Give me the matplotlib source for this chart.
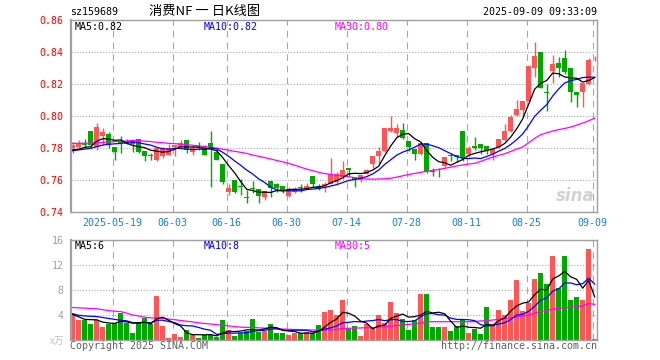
import matplotlib
matplotlib.use("Agg")
import matplotlib.pyplot as plt
import numpy as np

# daily candles (index 0 = 2025-05-08 ... 87 = 2025-09-09)
opens = [0.780, 0.781, 0.783, 0.791, 0.781, 0.788, 0.789, 0.781, 0.784, 0.784,
         0.785, 0.786, 0.778, 0.776, 0.773, 0.775, 0.776, 0.781, 0.781, 0.785,
         0.778, 0.781, 0.781, 0.783, 0.778, 0.770, 0.753, 0.760, 0.7565, 0.7495,
         0.7552, 0.7546, 0.7498, 0.7596, 0.7577, 0.7565, 0.750, 0.753, 0.7556, 0.7548,
         0.7627, 0.7565, 0.7565, 0.758, 0.759, 0.762, 0.7675, 0.762, 0.760, 0.764,
         0.770, 0.775, 0.7785, 0.791, 0.7895, 0.7915, 0.7846, 0.7794, 0.7765, 0.7831,
         0.7656, 0.7667, 0.769, 0.7754, 0.7758, 0.7908, 0.7763, 0.7815, 0.7827, 0.7815,
         0.7765, 0.781, 0.7852, 0.7908, 0.8006, 0.804, 0.8096, 0.8304, 0.840, 0.8146,
         0.8285, 0.8331, 0.8367, 0.8304, 0.8154, 0.8154, 0.820, 0.8362]
highs = [0.784, 0.785, 0.786, 0.791, 0.796, 0.793, 0.790, 0.781, 0.788, 0.786,
         0.786, 0.786, 0.778, 0.777, 0.781, 0.781, 0.783, 0.782, 0.785, 0.785,
         0.782, 0.784, 0.782, 0.791, 0.781, 0.770, 0.758, 0.760, 0.761, 0.754,
         0.7595, 0.7546, 0.7533, 0.7596, 0.7585, 0.7565, 0.7556, 0.756, 0.758, 0.7585,
         0.7627, 0.7577, 0.759, 0.774, 0.765, 0.772, 0.7675, 0.762, 0.7635, 0.767,
         0.775, 0.781, 0.7925, 0.800, 0.795, 0.7956, 0.7846, 0.7794, 0.7842, 0.7831,
         0.7675, 0.7675, 0.7744, 0.7769, 0.7758, 0.7908, 0.7815, 0.7873, 0.7827, 0.7815,
         0.7794, 0.7856, 0.795, 0.801, 0.8102, 0.8096, 0.8317, 0.8462, 0.840, 0.820,
         0.8383, 0.8373, 0.8415, 0.8304, 0.8154, 0.8206, 0.8362, 0.8379]
lows = [0.777, 0.780, 0.780, 0.780, 0.779, 0.782, 0.780, 0.773, 0.777, 0.783,
        0.778, 0.777, 0.772, 0.773, 0.772, 0.774, 0.776, 0.775, 0.780, 0.777,
        0.776, 0.779, 0.776, 0.756, 0.773, 0.758, 0.751, 0.752, 0.751, 0.746,
        0.752, 0.7456, 0.748, 0.7494, 0.753, 0.752, 0.7494, 0.752, 0.753, 0.7548,
        0.7556, 0.754, 0.753, 0.7577, 0.758, 0.761, 0.7627, 0.756, 0.759, 0.764,
        0.7675, 0.770, 0.778, 0.790, 0.787, 0.7856, 0.7785, 0.7727, 0.7758, 0.7644,
        0.7627, 0.7623, 0.7685, 0.7723, 0.7717, 0.7721, 0.7748, 0.779, 0.7763, 0.7765,
        0.7727, 0.780, 0.7848, 0.790, 0.800, 0.8004, 0.8092, 0.8248, 0.8175, 0.8033,
        0.8206, 0.8248, 0.8263, 0.8092, 0.806, 0.806, 0.8196, 0.8346]
closes = [0.782, 0.783, 0.782, 0.782, 0.793, 0.790, 0.782, 0.778, 0.783, 0.783,
          0.783, 0.778, 0.775, 0.775, 0.780, 0.780, 0.780, 0.782, 0.783, 0.779,
          0.780, 0.780, 0.776, 0.781, 0.773, 0.759, 0.755, 0.753, 0.756, 0.749,
          0.7548, 0.750, 0.7533, 0.755, 0.7554, 0.754, 0.7544, 0.7544, 0.755, 0.7565,
          0.7577, 0.7548, 0.7577, 0.764, 0.764, 0.7665, 0.7665, 0.760, 0.7633, 0.7665,
          0.775, 0.7785, 0.7925, 0.7925, 0.7925, 0.7863, 0.7806, 0.7765, 0.7831, 0.766,
          0.7654, 0.7665, 0.7744, 0.7752, 0.7748, 0.7738, 0.780, 0.780, 0.780, 0.7785,
          0.7794, 0.7856, 0.7908, 0.7998, 0.8046, 0.8096, 0.8317, 0.8379, 0.8179, 0.8144,
          0.8327, 0.8304, 0.8275, 0.8154, 0.8133, 0.8206, 0.8352, 0.8367]

ma5 = [0.779, 0.7794, 0.7806, 0.781, 0.7844, 0.786, 0.7858, 0.785, 0.7852, 0.7832,
       0.7818, 0.781, 0.7804, 0.7788, 0.7782, 0.7776, 0.778, 0.7794, 0.781, 0.7808,
       0.7808, 0.7808, 0.7796, 0.7796, 0.7784, 0.7742, 0.7692, 0.7646, 0.7592, 0.7544,
       0.7536, 0.7526, 0.7526, 0.7524, 0.7536, 0.7534, 0.7542, 0.7544, 0.7544, 0.7548,
       0.7556, 0.7558, 0.7566, 0.7584, 0.7598, 0.7616, 0.764, 0.7644, 0.7642, 0.7648,
       0.7664, 0.7688, 0.7754, 0.7814, 0.7866, 0.7888, 0.7892, 0.786, 0.784, 0.7786,
       0.7744, 0.7716, 0.771, 0.7694, 0.7712, 0.773, 0.7756, 0.7768, 0.7778, 0.7786,
       0.7796, 0.7808, 0.783, 0.787, 0.7922, 0.7984, 0.8076, 0.817, 0.8206, 0.8224,
       0.827, 0.8266, 0.8246, 0.824, 0.8238, 0.8214, 0.8224, 0.8242]
ma10 = [0.7785, 0.779, 0.7795, 0.780, 0.781, 0.782, 0.7825, 0.7828, 0.783, 0.7838,
        0.7839, 0.7834, 0.7827, 0.782, 0.7807, 0.7797, 0.7795, 0.7799, 0.7799, 0.7795,
        0.7792, 0.7794, 0.7795, 0.7803, 0.7796, 0.7775, 0.775, 0.7721, 0.7694, 0.7664,
        0.7639, 0.7609, 0.7586, 0.7558, 0.754, 0.7535, 0.7534, 0.7535, 0.7534, 0.7542,
        0.7545, 0.755, 0.7555, 0.7564, 0.7573, 0.7586, 0.7599, 0.7605, 0.7613, 0.7623,
        0.764, 0.7664, 0.7699, 0.7728, 0.7757, 0.7776, 0.779, 0.7807, 0.7827, 0.7826,
        0.7816, 0.7804, 0.7785, 0.7767, 0.7749, 0.7737, 0.7736, 0.7739, 0.7736, 0.7749,
        0.7763, 0.7782, 0.7799, 0.7824, 0.7854, 0.789, 0.7942, 0.800, 0.8038, 0.8073,
        0.8127, 0.8171, 0.8208, 0.8223, 0.8231, 0.8242, 0.8245, 0.8244]
ma30 = [0.7831, 0.7831, 0.7832, 0.7833, 0.7835, 0.7837, 0.7840, 0.7842, 0.7844, 0.7846,
        0.7848, 0.7848, 0.7845, 0.7842, 0.7838, 0.7835, 0.7831, 0.7829, 0.7826, 0.7823,
        0.7819, 0.7815, 0.7811, 0.7806, 0.7800, 0.7795, 0.7788, 0.7781, 0.7775, 0.7768,
        0.7758, 0.7750, 0.7742, 0.7733, 0.7724, 0.7715, 0.7706, 0.7694, 0.7682, 0.7670,
        0.7660, 0.7650, 0.7642, 0.7637, 0.7632, 0.7628, 0.7623, 0.7616, 0.7610, 0.7608,
        0.7607, 0.7608, 0.7610, 0.7613, 0.7620, 0.7628, 0.7636, 0.7643, 0.7650, 0.7656,
        0.7662, 0.7668, 0.7675, 0.7682, 0.7690, 0.7696, 0.7702, 0.7706, 0.7718, 0.7732,
        0.7745, 0.7756, 0.7766, 0.7780, 0.7795, 0.7808, 0.7835, 0.7862, 0.7885, 0.7897,
        0.7908, 0.7917, 0.7924, 0.7933, 0.7945, 0.7958, 0.7972, 0.7988]

# volume, x万
volume = [4.0, 3.2, 3.2, 2.56, 3.2, 2.13, 2.56, 2.77, 4.27, 2.77,
          1.07, 2.83, 3.57, 2.56, 7.04, 2.24, 0.37, 0.96, 0.53, 1.6,
          0.8, 0.37, 0.8, 0.8, 0.53, 3.2, 1.6, 0.64, 1.17, 1.49,
          3.36, 1.33, 1.49, 2.56, 1.17, 1.17, 0.8, 1.17, 1.07, 1.33,
          1.07, 2.4, 4.48, 4.8, 4.0, 6.4, 1.71, 2.24, 0.64, 2.56,
          1.87, 4.0, 2.77, 6.13, 4.37, 3.41, 1.6, 3.2, 7.36, 7.36,
          2.13, 2.13, 2.03, 1.47, 2.24, 3.3, 1.17, 1.76, 0.96, 5.33,
          2.56, 4.8, 4.0, 6.4, 9.6, 4.64, 5.87, 9.76, 10.77, 8.96,
          13.44, 8.32, 13.44, 6.4, 6.88, 6.4, 14.56, 0.16]
vma5 = [4.1, 3.7, 3.3, 3.25, 3.23, 2.86, 2.73, 2.64, 2.99, 2.9,
        2.69, 2.74, 2.9, 2.56, 3.41, 3.65, 3.16, 2.63, 2.23, 1.14,
        0.85, 0.85, 0.82, 0.87, 0.66, 1.14, 1.39, 1.35, 1.43, 1.62,
        1.65, 1.6, 1.77, 2.05, 1.98, 1.54, 1.44, 1.37, 1.08, 1.11,
        1.09, 1.41, 2.07, 2.82, 3.35, 4.42, 4.28, 3.83, 3.0, 2.71,
        1.8, 2.26, 2.37, 3.47, 3.83, 4.14, 3.66, 3.74, 3.99, 4.59,
        4.33, 4.44, 4.2, 3.02, 2.0, 2.23, 2.04, 1.99, 1.89, 2.5,
        2.36, 3.08, 3.53, 4.62, 5.47, 5.89, 6.1, 7.25, 8.13, 8.0,
        9.76, 10.25, 10.99, 10.11, 9.7, 8.29, 9.54, 6.88]
vma10 = [4.2, 3.95, 3.85, 3.8, 3.75, 3.6, 3.45, 3.3, 3.15, 3.07,
         2.77, 2.74, 2.77, 2.77, 3.16, 3.17, 2.95, 2.77, 2.39, 2.28,
         2.25, 2.0, 1.73, 1.55, 0.9, 1.0, 1.12, 1.09, 1.15, 1.14,
         1.4, 1.49, 1.56, 1.74, 1.8, 1.6, 1.52, 1.57, 1.56, 1.55,
         1.32, 1.42, 1.72, 1.95, 2.23, 2.75, 2.84, 2.95, 2.91, 3.03,
         3.11, 3.27, 3.1, 3.23, 3.27, 2.97, 2.96, 3.06, 3.73, 4.21,
         4.23, 4.05, 3.97, 3.51, 3.29, 3.28, 3.24, 3.1, 2.46, 2.25,
         2.3, 2.56, 2.76, 3.25, 3.99, 4.12, 4.59, 5.39, 6.37, 6.74,
         7.82, 8.18, 9.12, 9.12, 8.85, 9.02, 9.89, 8.93]
vma30 = [5.2, 5.15, 5.1, 5.05, 5.0, 4.85, 4.7, 4.6, 4.55, 4.3,
         4.0, 3.85, 3.65, 3.55, 3.5, 3.47, 3.35, 3.25, 3.12, 3.0,
         2.9, 2.75, 2.65, 2.56, 2.45, 2.35, 2.25, 2.15, 2.05, 2.03,
         2.0, 1.95, 1.9, 1.87, 1.8, 1.75, 1.72, 1.68, 1.65, 1.62,
         1.6, 1.6, 1.6, 1.6, 1.7, 1.85, 1.87, 1.9, 1.93, 1.97,
         1.97, 2.05, 2.1, 2.2, 2.3, 2.4, 2.5, 2.6, 2.67, 2.93,
         2.93, 2.93, 2.93, 2.93, 2.93, 2.93, 2.93, 2.95, 3.05, 3.09,
         3.2, 3.3, 3.45, 3.55, 3.7, 3.85, 4.0, 4.3, 4.55, 4.75,
         4.9, 5.07, 5.15, 5.25, 5.35, 5.45, 5.85, 5.7]

date_pos = [7, 17, 26, 36, 46, 56, 66, 76, 87]
date_labels = ["2025-05-19", "06-03", "06-16", "06-30", "07-14",
               "07-28", "08-11", "08-25", "09-09"]
price_ticks = [0.74, 0.76, 0.78, 0.80, 0.82, 0.84, 0.86]
vol_ticks = [4, 8, 12, 16]

RED = "#ff5555"
GREEN = "#00a800"
GRID = "#a8a8a8"
SPINE = "#a0a0a0"
MONO = "DejaVu Sans Mono"
FS = 7.2

W, H = 660, 360


def rect(l, t, r, b):
    return [l / W, 1 - b / H, (r - l) / W, (b - t) / H]


fig = plt.figure(figsize=(W / 100, H / 100), dpi=100)
ax = fig.add_axes(rect(70.7, 20.3, 597.3, 212.3))
axv = fig.add_axes(rect(70.7, 240, 597.3, 340))

x = np.arange(len(closes))
O, Hi, L, C = map(np.array, (opens, highs, lows, closes))
cols = np.where(C >= O, RED, GREEN)
grid_x = [p - 0.33 for p in date_pos]

for a in (ax, axv):
    a.set_xlim(-0.333, 87.433)
    for s in a.spines.values():
        s.set_color(SPINE)
        s.set_linewidth(1.0)
    a.spines["left"].set_linewidth(1.6)
    a.set_xticks(grid_x)
    a.grid(axis="x", color=GRID, linestyle=(0, (6, 4.5)), linewidth=0.8)
    a.grid(axis="y", color=GRID, linestyle=(0, (1, 1.6)), linewidth=0.8)
    a.set_axisbelow(True)
    a.tick_params(length=0)

# price panel
ax.vlines(x, L, Hi, colors=cols, linewidth=1.0, zorder=2)
body = np.maximum(np.abs(C - O), 0.0005)
ax.bar(x, body, bottom=np.minimum(O, C), width=0.8, color=cols,
       linewidth=0, zorder=2)
ax.plot(x, ma30, color="#ff00ff", linewidth=0.9, zorder=3)
ax.plot(x, ma10, color="#0000ff", linewidth=0.9, zorder=3)
ax.plot(x, ma5, color="black", linewidth=0.9, zorder=3)
ax.set_ylim(0.74, 0.86)
ax.set_yticks(price_ticks)
ax.set_yticklabels([f"{t:.2f}" for t in price_ticks], color="#ff0000",
                   family=MONO, fontsize=FS)
ax.tick_params(axis="y", pad=5)
ax.set_xticklabels(date_labels, color="#1a80d0", family=MONO, fontsize=FS)
ax.tick_params(axis="x", pad=4)
ax.text(0.007, 0.965, "MA5:0.82", transform=ax.transAxes, family=MONO,
        fontsize=FS, color="black", va="center")
ax.text(0.253, 0.965, "MA10:0.82", transform=ax.transAxes, family=MONO,
        fontsize=FS, color="#0000ff", va="center")
ax.text(0.502, 0.965, "MA30:0.80", transform=ax.transAxes, family=MONO,
        fontsize=FS, color="#ff00ff", va="center")
ax.text(0.995, 0.04, "sina", transform=ax.transAxes, ha="right",
        va="bottom", fontsize=12, fontweight="bold", style="italic",
        color="#d2d2d2", zorder=1)

# volume panel
axv.bar(x, volume, width=0.78, color=cols, linewidth=0, zorder=2)
axv.plot(x, vma30, color="#ff00ff", linewidth=0.9, zorder=3)
axv.plot(x, vma10, color="#0000ff", linewidth=0.9, zorder=3)
axv.plot(x, vma5, color="black", linewidth=0.9, zorder=3)
axv.set_ylim(0, 16)
axv.set_yticks(vol_ticks)
axv.set_yticklabels([str(t) for t in vol_ticks], color="#a0a0a0",
                    family=MONO, fontsize=FS)
axv.tick_params(axis="y", pad=5)
axv.set_xticklabels([])
axv.text(0.007, 0.94, "MA5:6", transform=axv.transAxes, family=MONO,
         fontsize=FS, color="black", va="center")
axv.text(0.253, 0.94, "MA10:8", transform=axv.transAxes, family=MONO,
         fontsize=FS, color="#0000ff", va="center")
axv.text(0.502, 0.94, "MA30:5", transform=axv.transAxes, family=MONO,
         fontsize=FS, color="#ff00ff", va="center")

# header and footer
fig.text(70 / W, 1 - 12 / H, "sz159689", family=MONO, fontsize=FS,
         va="center", ha="left")
fig.text(205 / W, 1 - 12 / H, "消费NF 一 日K线图",
         family=["Noto Sans CJK SC", "DejaVu Sans"], fontsize=9.5,
         va="center", ha="center")
fig.text(597 / W, 1 - 12 / H, "2025-09-09 09:33:09", family=MONO,
         fontsize=FS, va="center", ha="right")
fig.text(64 / W, 1 - 341 / H, "x万", family=["Noto Sans CJK SC", "DejaVu Sans"],
         fontsize=7, color="#c0c0c0", va="center", ha="right")
fig.text(70 / W, 1 - 346 / H, "Copyright 2025 SINA.COM", family=MONO,
         fontsize=FS, color="#606060", va="center", ha="left")
fig.text(597 / W, 1 - 346 / H, "http://finance.sina.com.cn", family=MONO,
         fontsize=FS, color="#606060", va="center", ha="right")

fig.savefig("out.png", dpi=100, facecolor="white")
